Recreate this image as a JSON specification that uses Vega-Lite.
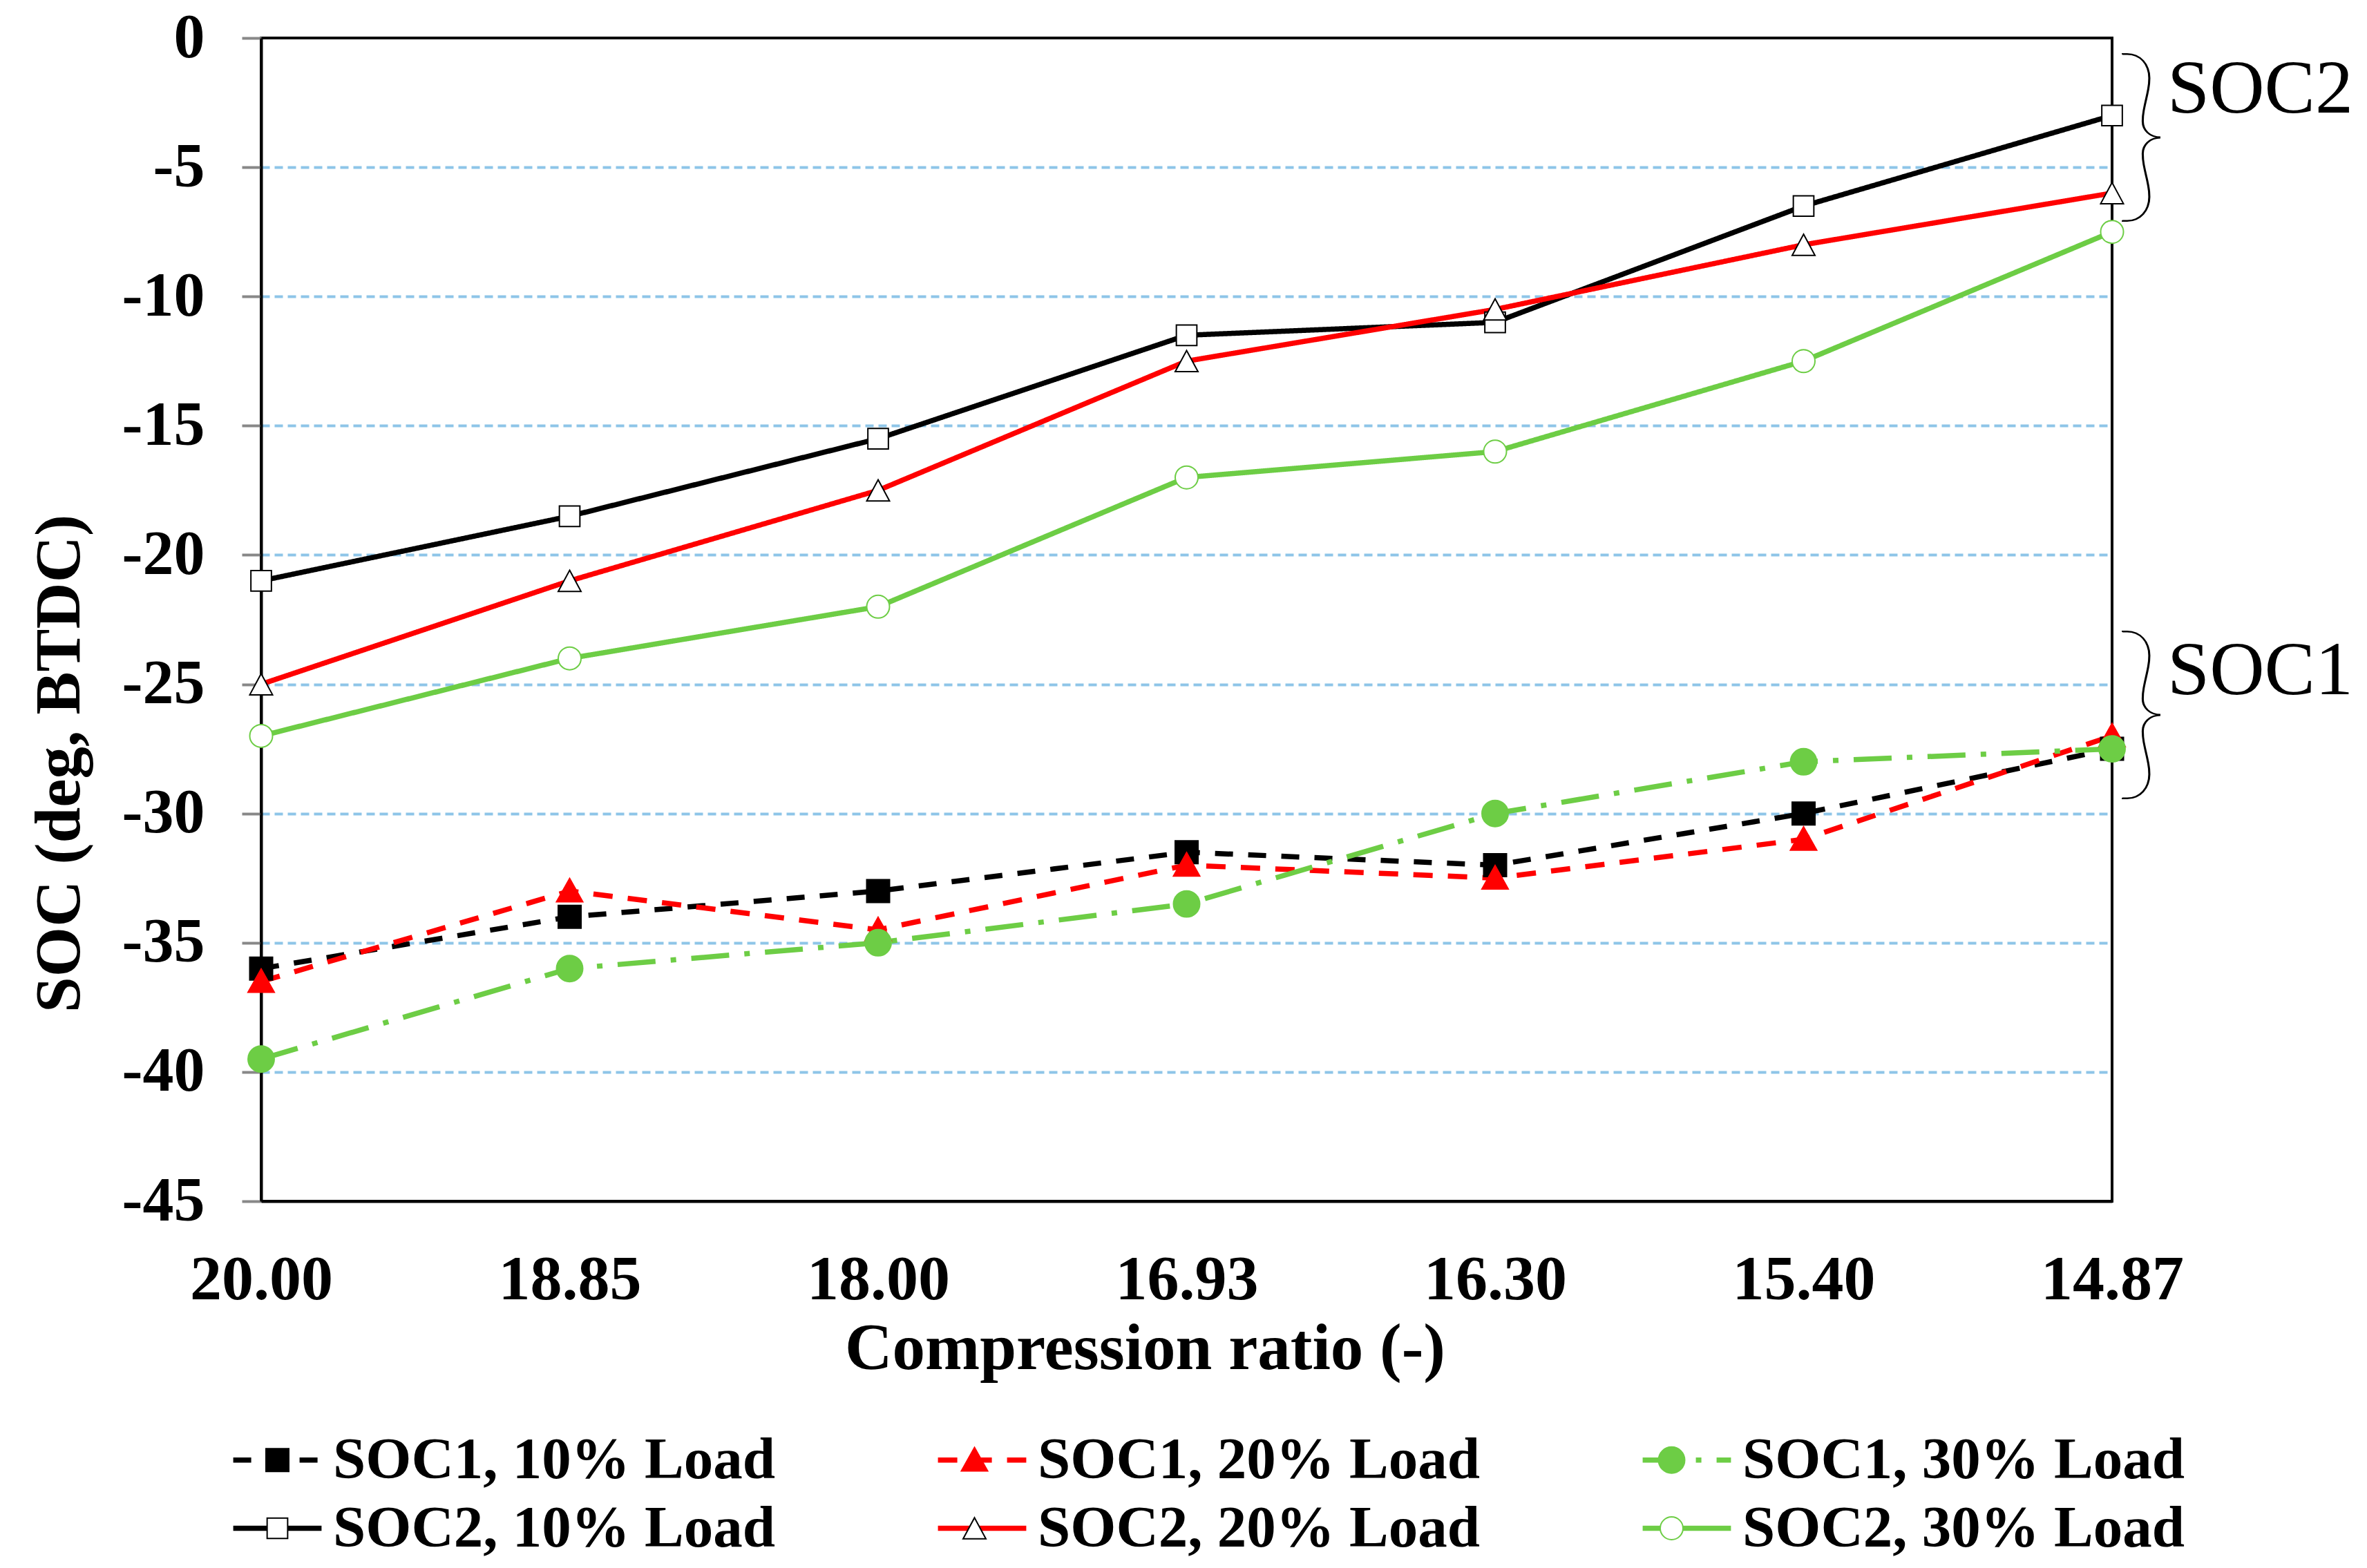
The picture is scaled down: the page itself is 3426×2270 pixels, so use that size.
{
  "$schema": "https://vega.github.io/schema/vega-lite/v6.json",
  "width": 2679,
  "height": 1684,
  "autosize": {"type": "none"},
  "padding": {"left": 378, "top": 55, "right": 369, "bottom": 531},
  "background": "white",
  "config": {
    "view": {"stroke": "black", "strokeWidth": 4},
    "font": "Liberation Serif",
    "axis": {"labelFont": "Liberation Serif", "titleFont": "Liberation Serif", "labelColor": "black", "titleColor": "black", "labelFontWeight": "bold", "titleFontWeight": "bold", "labelLimit": 1000},
    "legend": {"labelFont": "Liberation Serif", "labelFontWeight": "bold", "labelFontSize": 85, "labelLimit": 3000, "labelOffset": 38, "rowPadding": 13, "padding": 0, "columns": 3, "direction": "horizontal", "orient": "none", "legendX": -19, "legendY": 2016, "title": null}
  },
  "datasets": {
    "soc": [
      {"series": "SOC1, 10% Load", "cr": "20.00", "soc": -36},
      {"series": "SOC1, 10% Load", "cr": "18.85", "soc": -34},
      {"series": "SOC1, 10% Load", "cr": "18.00", "soc": -33},
      {"series": "SOC1, 10% Load", "cr": "16.93", "soc": -31.5},
      {"series": "SOC1, 10% Load", "cr": "16.30", "soc": -32},
      {"series": "SOC1, 10% Load", "cr": "15.40", "soc": -30},
      {"series": "SOC1, 10% Load", "cr": "14.87", "soc": -27.5},
      {"series": "SOC1, 20% Load", "cr": "20.00", "soc": -36.5},
      {"series": "SOC1, 20% Load", "cr": "18.85", "soc": -33},
      {"series": "SOC1, 20% Load", "cr": "18.00", "soc": -34.5},
      {"series": "SOC1, 20% Load", "cr": "16.93", "soc": -32},
      {"series": "SOC1, 20% Load", "cr": "16.30", "soc": -32.5},
      {"series": "SOC1, 20% Load", "cr": "15.40", "soc": -31},
      {"series": "SOC1, 20% Load", "cr": "14.87", "soc": -27},
      {"series": "SOC1, 30% Load", "cr": "20.00", "soc": -39.5},
      {"series": "SOC1, 30% Load", "cr": "18.85", "soc": -36},
      {"series": "SOC1, 30% Load", "cr": "18.00", "soc": -35},
      {"series": "SOC1, 30% Load", "cr": "16.93", "soc": -33.5},
      {"series": "SOC1, 30% Load", "cr": "16.30", "soc": -30},
      {"series": "SOC1, 30% Load", "cr": "15.40", "soc": -28},
      {"series": "SOC1, 30% Load", "cr": "14.87", "soc": -27.5},
      {"series": "SOC2, 10% Load", "cr": "20.00", "soc": -21},
      {"series": "SOC2, 10% Load", "cr": "18.85", "soc": -18.5},
      {"series": "SOC2, 10% Load", "cr": "18.00", "soc": -15.5},
      {"series": "SOC2, 10% Load", "cr": "16.93", "soc": -11.5},
      {"series": "SOC2, 10% Load", "cr": "16.30", "soc": -11},
      {"series": "SOC2, 10% Load", "cr": "15.40", "soc": -6.5},
      {"series": "SOC2, 10% Load", "cr": "14.87", "soc": -3},
      {"series": "SOC2, 20% Load", "cr": "20.00", "soc": -25},
      {"series": "SOC2, 20% Load", "cr": "18.85", "soc": -21},
      {"series": "SOC2, 20% Load", "cr": "18.00", "soc": -17.5},
      {"series": "SOC2, 20% Load", "cr": "16.93", "soc": -12.5},
      {"series": "SOC2, 20% Load", "cr": "16.30", "soc": -10.5},
      {"series": "SOC2, 20% Load", "cr": "15.40", "soc": -8},
      {"series": "SOC2, 20% Load", "cr": "14.87", "soc": -6},
      {"series": "SOC2, 30% Load", "cr": "20.00", "soc": -27},
      {"series": "SOC2, 30% Load", "cr": "18.85", "soc": -24},
      {"series": "SOC2, 30% Load", "cr": "18.00", "soc": -22},
      {"series": "SOC2, 30% Load", "cr": "16.93", "soc": -17},
      {"series": "SOC2, 30% Load", "cr": "16.30", "soc": -16},
      {"series": "SOC2, 30% Load", "cr": "15.40", "soc": -12.5},
      {"series": "SOC2, 30% Load", "cr": "14.87", "soc": -7.5}
    ],
    "notes": [
      {"label": "SOC2", "cr": "14.87", "labelY": -2, "braceY": -3.96},
      {"label": "SOC1", "cr": "14.87", "labelY": -24.5, "braceY": -26.3}
    ]
  },
  "layer": [
    {
      "data": {"name": "soc"},
      "mark": {"type": "line", "strokeWidth": 7.5},
      "encoding": {
        "x": {"field": "cr", "type": "ordinal", "sort": null,
          "scale": {"type": "point", "padding": 0, "domain": ["20.00", "18.85", "18.00", "16.93", "16.30", "15.40", "14.87"]},
          "axis": {"title": "Compression ratio (-)", "titleFontSize": 95, "labelFontSize": 92, "labelAngle": 0, "ticks": false, "tickSize": 0, "labelPadding": 68, "domainColor": "black", "domainWidth": 4, "grid": false, "titleX": 1279, "titleY": 242, "titleBaseline": "alphabetic"}},
        "y": {"field": "soc", "type": "quantitative",
          "scale": {"domain": [-45, 0], "nice": false, "zero": false},
          "axis": {"title": "SOC (deg, BTDC)", "values": [0, -5, -10, -15, -20, -25, -30, -35, -40, -45], "labelExpr": "toString(datum.value)", "labelFontSize": 90, "titleFontSize": 93, "tickColor": "#888888", "tickSize": 28, "tickWidth": 4, "labelPadding": 54, "domainColor": "black", "domainWidth": 4, "grid": true, "gridColor": {"condition": {"test": "datum.value === 0 || datum.value === -45", "value": "transparent"}, "value": "#8ec5e8"}, "gridDash": [12, 7], "gridWidth": 4, "titleX": -264, "titleY": 1050, "titleBaseline": "alphabetic"}},
        "color": {"field": "series", "type": "nominal",
          "scale": {"domain": ["SOC1, 10% Load", "SOC1, 20% Load", "SOC1, 30% Load", "SOC2, 10% Load", "SOC2, 20% Load", "SOC2, 30% Load"], "range": ["#000000", "#ff0000", "#6dcd45", "#000000", "#ff0000", "#6dcd45"]},
          "legend": {"title": null, "zindex": 1, "columnPadding": 220, "symbolSize": 5929, "symbolType": "M-1.66,0H1.66", "symbolStrokeWidth": 7.5, "symbolFillColor": "transparent", "symbolOpacity": 1}},
        "strokeDash": {"field": "series", "type": "nominal",
          "scale": {"domain": ["SOC1, 10% Load", "SOC1, 20% Load", "SOC1, 30% Load", "SOC2, 10% Load", "SOC2, 20% Load", "SOC2, 30% Load"], "range": [[26, 22], [28, 22], [55, 22, 8, 22], [1, 0], [1, 0], [1, 0]]}}
      }
    },
    {
      "data": {"name": "soc"},
      "mark": {"type": "point", "opacity": 1, "size": 1089},
      "encoding": {
        "x": {"field": "cr", "type": "ordinal", "sort": null, "scale": {"type": "point", "padding": 0, "domain": ["20.00", "18.85", "18.00", "16.93", "16.30", "15.40", "14.87"]}},
        "y": {"field": "soc", "type": "quantitative", "scale": {"domain": [-45, 0], "nice": false, "zero": false}},
        "shape": {"field": "series", "type": "nominal",
          "scale": {"range": [
            "M-3.88,0M3.88,0M-1,-1H1V1H-1Z",
            "M-3.88,0M3.88,0M0,-1.1L1.15,0.95L-1.15,0.95Z",
            "M-3.88,0M3.88,0M1.15,0A1.15,1.15,0,1,1,-1.15,0A1.15,1.15,0,1,1,1.15,0Z",
            "M-3.88,0M3.88,0M-0.9,-0.9H0.9V0.9H-0.9Z",
            "M-3.88,0M3.88,0M0,-0.93L1,0.93L-1,0.93Z",
            "M-3.88,0M3.88,0M1,0A1,1,0,1,1,-1,0A1,1,0,1,1,1,0Z"]},
          "legend": {"title": null, "zindex": 2, "columnPadding": 860, "symbolSize": 1089, "labelExpr": "''", "symbolOpacity": 1}},
        "strokeWidth": {"field": "series", "type": "nominal",
          "scale": {"range": [2, 2, 2, 3.5, 6.5, 5]}},
        "fill": {"field": "series", "type": "nominal",
          "scale": {"range": ["#000000", "#ff0000", "#6dcd45", "#ffffff", "#ffffff", "#ffffff"]}},
        "stroke": {"field": "series", "type": "nominal",
          "scale": {"range": ["#000000", "#ff0000", "#6dcd45", "#000000", "#000000", "#6dcd45"]}}
      }
    },
    {
      "data": {"name": "notes"},
      "mark": {"type": "text", "font": "Lato", "fontSize": 280, "fontWeight": 100, "align": "left", "baseline": "middle", "dx": 2, "dy": 0, "color": "black"},
      "encoding": {
        "x": {"field": "cr", "type": "ordinal", "sort": null, "scale": {"type": "point", "padding": 0, "domain": ["20.00", "18.85", "18.00", "16.93", "16.30", "15.40", "14.87"]}},
        "y": {"field": "braceY", "type": "quantitative", "scale": {"domain": [-45, 0], "nice": false, "zero": false}},
        "text": {"value": "}"}
      }
    },
    {
      "data": {"name": "notes"},
      "mark": {"type": "text", "font": "Liberation Serif", "fontSize": 110, "fontWeight": "normal", "align": "left", "baseline": "middle", "dx": 80, "color": "black"},
      "encoding": {
        "x": {"field": "cr", "type": "ordinal", "sort": null, "scale": {"type": "point", "padding": 0, "domain": ["20.00", "18.85", "18.00", "16.93", "16.30", "15.40", "14.87"]}},
        "y": {"field": "labelY", "type": "quantitative", "scale": {"domain": [-45, 0], "nice": false, "zero": false}},
        "text": {"field": "label"}
      }
    }
  ]
}
